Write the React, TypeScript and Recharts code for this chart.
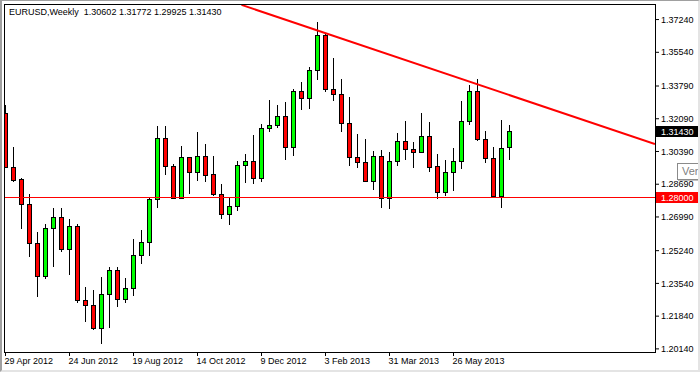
import React from 'react';
import { ComposedChart, Bar, XAxis, YAxis, ReferenceLine } from 'recharts';

// EURUSD weekly candles, first bar = week of 29 Apr 2012
const opens = [
  1.3239, 1.2958, 1.2896, 1.2766, 1.2563, 1.2392, 1.2641, 1.2699, 1.2532, 1.2652,
  1.2267, 1.2241, 1.2120, 1.2298, 1.2423, 1.2272, 1.2330, 1.2501, 1.2567, 1.2792,
  1.3109, 1.2964, 1.2800, 1.3010, 1.2932, 1.3016, 1.2922, 1.2818, 1.2712, 1.2756,
  1.2969, 1.2990, 1.2899, 1.3161, 1.3177, 1.3225, 1.3062, 1.3353, 1.3317, 1.3463,
  1.3644, 1.3364, 1.3338, 1.3187, 1.3012, 1.2986, 1.2886, 1.3016, 1.2800, 1.2990,
  1.3095, 1.3052, 1.3034, 1.3120, 1.2964, 1.2829, 1.2932, 1.2990, 1.3197, 1.3351,
  1.3104, 1.3005, 1.2806, 1.30602,
];
const highs = [
  1.3282, 1.3064, 1.2901, 1.2818, 1.2622, 1.2665, 1.2748, 1.2743, 1.2691, 1.2664,
  1.2333, 1.2321, 1.2388, 1.2440, 1.2440, 1.2382, 1.2584, 1.2633, 1.2800, 1.3169,
  1.3169, 1.2974, 1.3069, 1.3012, 1.3138, 1.3080, 1.3017, 1.2870, 1.2797, 1.2991,
  1.3026, 1.3126, 1.3183, 1.3308, 1.3282, 1.3298, 1.3364, 1.3402, 1.3480, 1.3710,
  1.3648, 1.3523, 1.3417, 1.3320, 1.3130, 1.3104, 1.3043, 1.3047, 1.3038, 1.3137,
  1.3199, 1.3090, 1.3241, 1.3194, 1.3026, 1.2995, 1.3057, 1.3303, 1.3386, 1.3416,
  1.3147, 1.3064, 1.3204, 1.31772,
];
const lows = [
  1.2955, 1.2878, 1.2636, 1.2489, 1.2281, 1.2379, 1.2437, 1.2515, 1.2400, 1.2252,
  1.2156, 1.2111, 1.2038, 1.2125, 1.2234, 1.2250, 1.2286, 1.2457, 1.2494, 1.2748,
  1.2917, 1.2798, 1.2797, 1.2818, 1.2884, 1.2878, 1.2809, 1.2688, 1.2657, 1.2728,
  1.2873, 1.2870, 1.2878, 1.3138, 1.3159, 1.2993, 1.3014, 1.3255, 1.3258, 1.3411,
  1.3346, 1.3299, 1.3138, 1.2962, 1.2951, 1.2884, 1.2839, 1.2743, 1.2738, 1.2962,
  1.2996, 1.2951, 1.3029, 1.2930, 1.2790, 1.2809, 1.2832, 1.2948, 1.3177, 1.3092,
  1.2977, 1.2797, 1.2748, 1.29925,
];
const closes = [
  1.2956, 1.2891, 1.2766, 1.2563, 1.2392, 1.2643, 1.2699, 1.2532, 1.2652, 1.2267,
  1.2241, 1.2120, 1.2300, 1.2423, 1.2272, 1.2330, 1.2503, 1.2570, 1.2794, 1.3109,
  1.2962, 1.2800, 1.3010, 1.2932, 1.3016, 1.2917, 1.2816, 1.2712, 1.2756, 1.2969,
  1.2990, 1.2901, 1.3161, 1.3178, 1.3225, 1.3062, 1.3353, 1.3317, 1.3463, 1.3644,
  1.3364, 1.3336, 1.3187, 1.3012, 1.2984, 1.2886, 1.3016, 1.2800, 1.2991, 1.3095,
  1.3052, 1.3034, 1.3120, 1.2960, 1.2829, 1.2932, 1.2991, 1.3197, 1.3351, 1.3104,
  1.3005, 1.2806, 1.3057, 1.31430,
];

const dateTicks = [0, 8, 16, 24, 32, 40, 48, 56];
const dateLabels = [
  '29 Apr 2012', '24 Jun 2012', '19 Aug 2012', '14 Oct 2012',
  '9 Dec 2012', '3 Feb 2013', '31 Mar 2013', '26 May 2013',
];
const priceTicks = [
  1.2014, 1.2184, 1.2354, 1.2524, 1.2699, 1.2869, 1.3039, 1.3209, 1.3379, 1.3554, 1.3724,
];

const supportLevel = 1.28;
const trendX = [29.5, 81.18];
const trendY = [1.38, 1.30775];

const FONT = '"Liberation Sans", Arial, sans-serif';

const candles = opens.map((o, i) => ({
  i,
  open: o,
  high: highs[i],
  low: lows[i],
  close: closes[i],
  range: [lows[i], highs[i]],
}));

const last = candles[candles.length - 1];

const Candle = (props: any) => {
  const { x, y, width, height, payload } = props;
  if (!payload || !height) return null;
  const { open, close, high, low } = payload;
  const cx = Math.floor(x + width / 2) + 0.5;
  const unit = height / (high - low);
  const yOpen = y + (high - open) * unit;
  const yClose = y + (high - close) * unit;
  const top = Math.round(Math.min(yOpen, yClose)) + 0.5;
  const bottom = Math.round(Math.max(yOpen, yClose)) + 0.5;
  const bull = close >= open;
  return (
    <g>
      <line x1={cx} x2={cx} y1={Math.round(y)} y2={Math.round(y + height)} stroke="#000" />
      <rect
        x={cx - 2}
        y={top}
        width={4}
        height={Math.max(bottom - top, 1)}
        fill={bull ? '#00ff00' : '#ff0000'}
        stroke="#000"
      />
    </g>
  );
};

const DateTick = (props: any) => {
  const { x, y, payload } = props;
  const k = dateTicks.indexOf(payload.value);
  return (
    <text x={x - 1} y={y} dy="0.71em" textAnchor="start" fontSize={9} fontFamily={FONT} fill="#000">
      {dateLabels[k]}
    </text>
  );
};

const PriceTag = (props: any) => {
  const { viewBox, bg, text } = props;
  if (!viewBox) return null;
  const right = viewBox.x + viewBox.width;
  const cy = Math.floor(viewBox.y);
  return (
    <g>
      <rect x={right + 1} y={cy - 5} width={44} height={11} fill={bg} />
      <text x={right + 6} y={cy + 0.5} dy="0.35em" fontSize={9} fontFamily={FONT} fill="#fff">
        {text}
      </text>
    </g>
  );
};

export default function App() {
  return (
    <div style={{ position: 'absolute', left: 0, top: 0, width: 700, height: 372, background: '#fff' }}>
      <ComposedChart
        width={700}
        height={372}
        data={candles}
        margin={{ top: 4, right: 0, bottom: 0, left: 4 }}
      >
        <XAxis
          dataKey="i"
          type="number"
          domain={[-0.1875, 81.1875]}
          ticks={dateTicks}
          tick={<DateTick />}
          tickSize={4}
          tickLine={{ stroke: '#000' }}
          axisLine={false}
          height={20}
          allowDataOverflow
        />
        <YAxis
          orientation="right"
          type="number"
          domain={[1.19978, 1.38048]}
          ticks={priceTicks}
          tickFormatter={(v: number) => v.toFixed(5)}
          tick={{ fill: '#000', fontSize: 9, fontFamily: FONT }}
          tickSize={4}
          tickLine={{ stroke: '#000' }}
          axisLine={false}
          width={45}
          allowDataOverflow
        />
        <ReferenceLine
          y={supportLevel}
          stroke="#ff0000"
          shapeRendering="crispEdges"
          label={<PriceTag bg="#ff0000" text={supportLevel.toFixed(5)} />}
        />
        <ReferenceLine
          y={last.close}
          stroke="none"
          strokeOpacity={0}
          label={<PriceTag bg="#000" text={last.close.toFixed(5)} />}
        />
        <Bar dataKey="range" barSize={5} shape={(p: any) => <Candle {...p} />} isAnimationActive={false} />
        <ReferenceLine
          segment={[
            { x: trendX[0], y: trendY[0] },
            { x: trendX[1], y: trendY[1] },
          ]}
          stroke="#ff0000"
          strokeWidth={2}
          ifOverflow="hidden"
        />
      </ComposedChart>
      <div
        style={{
          position: 'absolute', left: 4, top: 4, width: 652, height: 349,
          border: '1px solid #000', boxSizing: 'border-box', pointerEvents: 'none',
        }}
      />
      <div
        style={{
          position: 'absolute', left: 9, top: 7, fontSize: 9, fontFamily: FONT,
          whiteSpace: 'pre', color: '#000', lineHeight: '11px',
        }}
      >
        {`EURUSD,Weekly  ${last.open.toFixed(5)} ${last.high.toFixed(5)} ${last.low.toFixed(5)} ${last.close.toFixed(5)}`}
      </div>
      <div
        style={{
          position: 'absolute', left: 677, top: 163, width: 30, height: 17,
          border: '1px solid #8a8a8a', background: '#fff', boxSizing: 'border-box',
          fontSize: 11, fontFamily: FONT, color: '#808080', paddingLeft: 4, lineHeight: '15px',
          boxShadow: '1px 1px 0 #c0c0c0',
        }}
      >
        Ver
      </div>
      <div
        style={{
          position: 'absolute', left: 0, top: 0, width: 700, height: 372, boxSizing: 'border-box',
          borderTop: '1px solid #a0a0a0', borderLeft: '2px solid #a0a0a0',
          borderRight: '2px solid #e4e4e4', borderBottom: '2px solid #e4e4e4', pointerEvents: 'none',
        }}
      />
    </div>
  );
}
